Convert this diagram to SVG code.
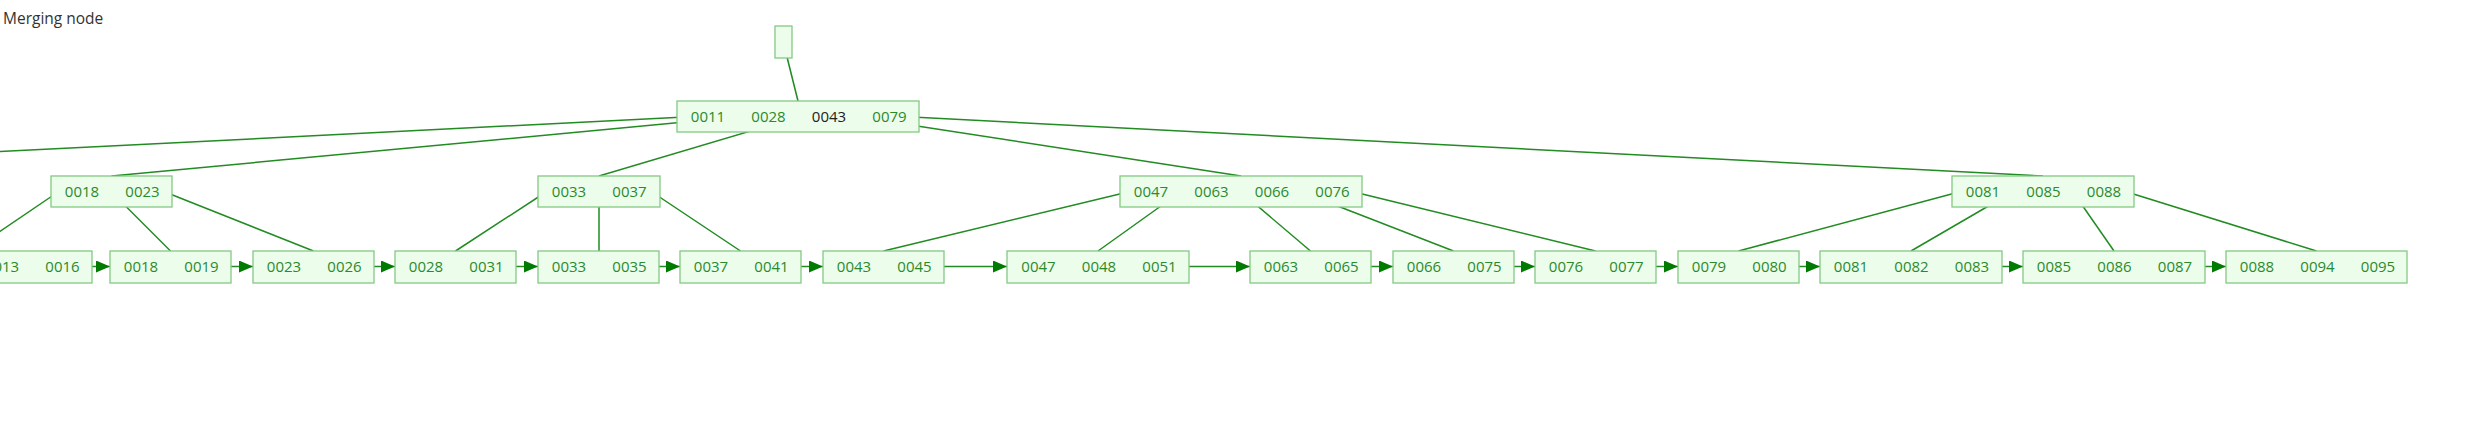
<svg xmlns="http://www.w3.org/2000/svg" width="2470" height="427" viewBox="0 0 2470 427">
<defs>
<style>
.box{fill:#ecfdec;stroke:#84c984;stroke-width:1.3}
.k{font-family:"Open Sans","Liberation Sans",sans-serif;font-size:15px;fill:#2b8a2b;text-anchor:middle}
.kb{fill:#222}
.e{stroke:#228b22;stroke-width:1.5;fill:none}
.a{stroke:#228b22;stroke-width:1.5;fill:none;marker-end:url(#ah)}
.t{font-family:"Open Sans","Liberation Sans",sans-serif;font-size:15.5px;fill:#333}
</style>
<marker id="ah" markerUnits="userSpaceOnUse" markerWidth="14" markerHeight="12" refX="14" refY="6" orient="auto">
<path d="M0,0 L14,6 L0,12 z" fill="#007a00"/>
</marker>
</defs>
<rect width="2470" height="427" fill="#fff"/>
<text class="t" x="3" y="24">Merging node</text>

<g id="connectors">
<line class="e" x1="783.5" y1="43" x2="798" y2="101"/>
<line class="e" x1="685" y1="117" x2="-485" y2="176"/>
<line class="e" x1="737.5" y1="117" x2="111.5" y2="176"/>
<line class="e" x1="798" y1="117" x2="599" y2="176"/>
<line class="e" x1="858.5" y1="117" x2="1241" y2="176"/>
<line class="e" x1="912" y1="117" x2="2043" y2="176"/>
<line class="e" x1="58" y1="192" x2="-29" y2="251"/>
<line class="e" x1="111.5" y1="192" x2="170.5" y2="251"/>
<line class="e" x1="165" y1="192" x2="313.5" y2="251"/>
<line class="e" x1="546" y1="192" x2="455.5" y2="251"/>
<line class="e" x1="599" y1="192" x2="599" y2="251"/>
<line class="e" x1="652" y1="192" x2="740.5" y2="251"/>
<line class="e" x1="1128" y1="192" x2="883.5" y2="251"/>
<line class="e" x1="1180.5" y1="192" x2="1098" y2="251"/>
<line class="e" x1="1241" y1="192" x2="1310.5" y2="251"/>
<line class="e" x1="1301.5" y1="192" x2="1453.5" y2="251"/>
<line class="e" x1="1354" y1="192" x2="1595.5" y2="251"/>
<line class="e" x1="1959" y1="192" x2="1738.5" y2="251"/>
<line class="e" x1="2012.5" y1="192" x2="1911" y2="251"/>
<line class="e" x1="2073" y1="192" x2="2114" y2="251"/>
<line class="e" x1="2127" y1="192" x2="2316.5" y2="251"/>
<line class="a" x1="84" y1="266.5" x2="110" y2="266.5"/>
<line class="a" x1="223" y1="266.5" x2="253" y2="266.5"/>
<line class="a" x1="366" y1="266.5" x2="395" y2="266.5"/>
<line class="a" x1="508" y1="266.5" x2="538" y2="266.5"/>
<line class="a" x1="651" y1="266.5" x2="680" y2="266.5"/>
<line class="a" x1="793" y1="266.5" x2="823" y2="266.5"/>
<line class="a" x1="936.5" y1="266.5" x2="1007" y2="266.5"/>
<line class="a" x1="1181.5" y1="266.5" x2="1250" y2="266.5"/>
<line class="a" x1="1363" y1="266.5" x2="1393" y2="266.5"/>
<line class="a" x1="1506" y1="266.5" x2="1535" y2="266.5"/>
<line class="a" x1="1648" y1="266.5" x2="1678" y2="266.5"/>
<line class="a" x1="1791" y1="266.5" x2="1820" y2="266.5"/>
<line class="a" x1="1994" y1="266.5" x2="2023" y2="266.5"/>
<line class="a" x1="2197" y1="266.5" x2="2226" y2="266.5"/>
</g>

<g id="top"><rect class="box" x="775" y="26" width="17" height="32"/></g>

<g id="root"><rect class="box" x="677" y="101" width="242" height="31"/>
<text class="k" x="708" y="121.5">0011</text><text class="k" x="768.5" y="121.5">0028</text><text class="k kb" x="829" y="121.5">0043</text><text class="k" x="889.5" y="121.5">0079</text></g>

<g id="i0"><rect class="box" x="51" y="176" width="121" height="31"/>
<text class="k" x="82" y="196.5">0018</text><text class="k" x="142.5" y="196.5">0023</text></g>
<g id="i1"><rect class="box" x="538" y="176" width="122" height="31"/>
<text class="k" x="569" y="196.5">0033</text><text class="k" x="629.5" y="196.5">0037</text></g>
<g id="i2"><rect class="box" x="1120" y="176" width="242" height="31"/>
<text class="k" x="1151" y="196.5">0047</text><text class="k" x="1211.5" y="196.5">0063</text><text class="k" x="1272" y="196.5">0066</text><text class="k" x="1332.5" y="196.5">0076</text></g>
<g id="i3"><rect class="box" x="1952" y="176" width="182" height="31"/>
<text class="k" x="1983" y="196.5">0081</text><text class="k" x="2043.5" y="196.5">0085</text><text class="k" x="2104" y="196.5">0088</text></g>

<g id="l0"><rect class="box" x="-90" y="251" width="182" height="32"/>
<text class="k" x="2" y="272">0013</text><text class="k" x="62.5" y="272">0016</text></g>
<g id="l1"><rect class="box" x="110" y="251" width="121" height="32"/>
<text class="k" x="141" y="272">0018</text><text class="k" x="201.5" y="272">0019</text></g>
<g id="l2"><rect class="box" x="253" y="251" width="121" height="32"/>
<text class="k" x="284" y="272">0023</text><text class="k" x="344.5" y="272">0026</text></g>
<g id="l3"><rect class="box" x="395" y="251" width="121" height="32"/>
<text class="k" x="426" y="272">0028</text><text class="k" x="486.5" y="272">0031</text></g>
<g id="l4"><rect class="box" x="538" y="251" width="121" height="32"/>
<text class="k" x="569" y="272">0033</text><text class="k" x="629.5" y="272">0035</text></g>
<g id="l5"><rect class="box" x="680" y="251" width="121" height="32"/>
<text class="k" x="711" y="272">0037</text><text class="k" x="771.5" y="272">0041</text></g>
<g id="l6"><rect class="box" x="823" y="251" width="121" height="32"/>
<text class="k" x="854" y="272">0043</text><text class="k" x="914.5" y="272">0045</text></g>
<g id="l7"><rect class="box" x="1007" y="251" width="182" height="32"/>
<text class="k" x="1038.5" y="272">0047</text><text class="k" x="1099" y="272">0048</text><text class="k" x="1159.5" y="272">0051</text></g>
<g id="l8"><rect class="box" x="1250" y="251" width="121" height="32"/>
<text class="k" x="1281" y="272">0063</text><text class="k" x="1341.5" y="272">0065</text></g>
<g id="l9"><rect class="box" x="1393" y="251" width="121" height="32"/>
<text class="k" x="1424" y="272">0066</text><text class="k" x="1484.5" y="272">0075</text></g>
<g id="l10"><rect class="box" x="1535" y="251" width="121" height="32"/>
<text class="k" x="1566" y="272">0076</text><text class="k" x="1626.5" y="272">0077</text></g>
<g id="l11"><rect class="box" x="1678" y="251" width="121" height="32"/>
<text class="k" x="1709" y="272">0079</text><text class="k" x="1769.5" y="272">0080</text></g>
<g id="l12"><rect class="box" x="1820" y="251" width="182" height="32"/>
<text class="k" x="1851" y="272">0081</text><text class="k" x="1911.5" y="272">0082</text><text class="k" x="1972" y="272">0083</text></g>
<g id="l13"><rect class="box" x="2023" y="251" width="182" height="32"/>
<text class="k" x="2054" y="272">0085</text><text class="k" x="2114.5" y="272">0086</text><text class="k" x="2175" y="272">0087</text></g>
<g id="l14"><rect class="box" x="2226" y="251" width="181" height="32"/>
<text class="k" x="2257" y="272">0088</text><text class="k" x="2317.5" y="272">0094</text><text class="k" x="2378" y="272">0095</text></g>
</svg>
